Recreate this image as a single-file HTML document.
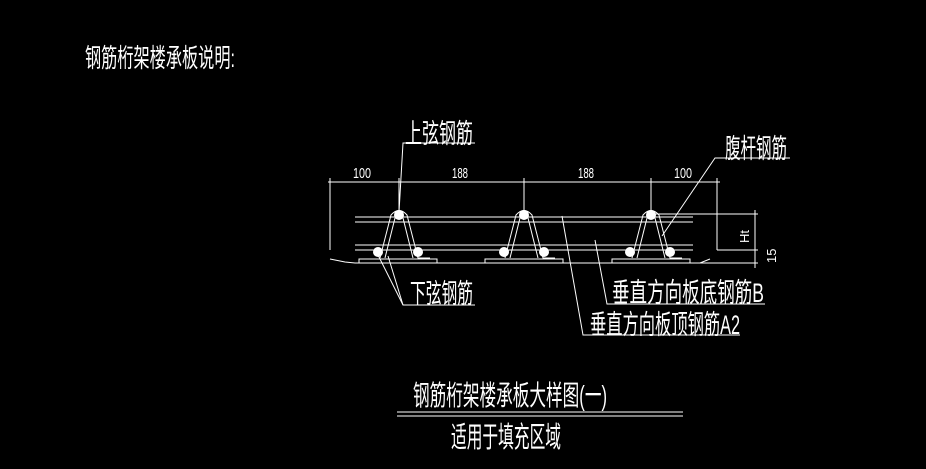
<!DOCTYPE html>
<html><head><meta charset="utf-8"><style>
html,body{margin:0;padding:0;background:#000;width:926px;height:469px;overflow:hidden}
svg text{font-family:"Liberation Sans","Noto Sans CJK SC",sans-serif;fill:#fff}
</style></head><body>
<svg width="926" height="469" viewBox="0 0 926 469" xmlns="http://www.w3.org/2000/svg">
<g stroke="#fff" stroke-width="1" fill="none">
<line x1="328" y1="182" x2="720" y2="182"/>
<line x1="330" y1="178" x2="330" y2="250"/>
<line x1="717" y1="178" x2="717" y2="250"/>
<line x1="399" y1="178" x2="399" y2="215"/>
<line x1="524" y1="178" x2="524" y2="210"/>
<line x1="651" y1="178" x2="651" y2="210"/>
<line x1="355" y1="217" x2="693" y2="217"/>
<line x1="355" y1="222" x2="693" y2="222"/>
<line x1="355" y1="245" x2="693" y2="245"/>
<line x1="355" y1="250" x2="693" y2="250"/>
<path d="M330 259 L345 262 L355 263 L700 263 L710 259"/>
<line x1="655" y1="214" x2="758" y2="214"/>
<line x1="755" y1="210" x2="755" y2="268"/>
<line x1="717" y1="250" x2="758" y2="250"/>
<line x1="700" y1="263" x2="758" y2="263"/>
<path d="M359 263 V259 H437 V263"/>
<path d="M485 263 V259 H563 V263"/>
<path d="M612 263 V259 H690 V263"/>
<path d="M380 258 L391 215 Q399 206 407 215 L418 258 L430 258"/>
<path d="M385 258 L395 218 Q399 212 403 218 L413 258"/>
<path d="M505 258 L516 215 Q524 206 532 215 L543 258 L555 258"/>
<path d="M510 258 L520 218 Q524 212 528 218 L538 258"/>
<path d="M632 258 L643 215 Q651 206 659 215 L670 258 L682 258"/>
<path d="M637 258 L647 218 Q651 212 655 218 L665 258"/>
<polyline points="475,143 403,143 399,212"/>
<polyline points="790,158 715,158 662,236"/>
<polyline points="475,305 403,305 378,255"/>
<line x1="403" y1="305" x2="388" y2="256"/>
<polyline points="765,304 607,304 595,240"/>
<polyline points="740,335 583,335 562,216"/>
<line x1="397" y1="412" x2="683" y2="412"/>
<line x1="397" y1="416" x2="683" y2="416"/>
</g>
<g fill="#fff">
<circle cx="399" cy="215" r="5"/><circle cx="524" cy="215" r="5"/><circle cx="651" cy="215" r="5"/>
<circle cx="378" cy="252" r="5"/><circle cx="418" cy="252" r="5"/>
<circle cx="504" cy="252" r="5"/><circle cx="544" cy="252" r="5"/>
<circle cx="630" cy="252" r="5"/><circle cx="670" cy="252" r="5"/>
</g>
<text x="85" y="67" font-size="26" textLength="150" lengthAdjust="spacingAndGlyphs">钢筋桁架楼承板说明:</text>
<text x="353" y="178" font-size="15" textLength="18" lengthAdjust="spacingAndGlyphs">100</text>
<text x="452" y="178" font-size="15" textLength="16" lengthAdjust="spacingAndGlyphs">188</text>
<text x="578" y="178" font-size="15" textLength="16" lengthAdjust="spacingAndGlyphs">188</text>
<text x="674" y="178" font-size="15" textLength="18" lengthAdjust="spacingAndGlyphs">100</text>
<text x="405" y="143" font-size="27" textLength="68" lengthAdjust="spacingAndGlyphs">上弦钢筋</text>
<text x="725" y="158" font-size="27" textLength="62" lengthAdjust="spacingAndGlyphs">腹杆钢筋</text>
<text x="410" y="303" font-size="27" textLength="63" lengthAdjust="spacingAndGlyphs">下弦钢筋</text>
<text x="612" y="302" font-size="27" textLength="152" lengthAdjust="spacingAndGlyphs">垂直方向板底钢筋B</text>
<text x="590" y="334" font-size="27" textLength="150" lengthAdjust="spacingAndGlyphs">垂直方向板顶钢筋A2</text>
<text x="0" y="0" font-size="13" transform="translate(749,243) rotate(-90)">Ht</text>
<text x="0" y="0" font-size="13" transform="translate(776,263) rotate(-90)">15</text>
<text x="413" y="405" font-size="28" textLength="194" lengthAdjust="spacingAndGlyphs">钢筋桁架楼承板大样图(一)</text>
<text x="451" y="447" font-size="29" textLength="110" lengthAdjust="spacingAndGlyphs">适用于填充区域</text>
</svg>
</body></html>
